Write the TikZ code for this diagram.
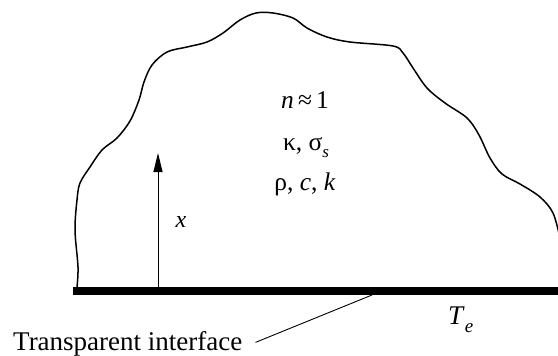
\documentclass[tikz,border=0pt]{standalone}
\usepackage{fontspec}
\setmainfont{Liberation Serif}
\usetikzlibrary{arrows.meta}
\newcommand{\lblfont}{\fontsize{27}{32}\selectfont}
\newcommand{\mfont}{\fontsize{25.5}{30}\selectfont}
\begin{document}
\begin{tikzpicture}[x=1pt,y=-1pt,
  outline/.style={line width=1.5pt,line join=round},
  lbl/.style={inner sep=0pt,font=\lblfont},
  mlbl/.style={inner sep=0pt,font=\mfont,anchor=base},
  leader/.style={line width=0.9pt},
  axis/.style={line width=1pt,-{Triangle[length=19pt,width=9pt]}}]
\useasboundingbox (0,0) rectangle (558,356);
\begin{scope}
\clip (0,0) rectangle (558,356);
\draw[outline] plot[smooth,tension=0.55] coordinates {
 (77,287) (78,267) (75,230) (77,200) (80,183) (90,167) (102,150) (117,138)
 (130,121) (139,100) (144,82) (152,65) (167,52) (187,47) (207,42) (223,33)
 (240,20) (256,13) (273,13) (293,18) (307,28) (327,37) (350,42) (393,46)
 (403,53) (413,68) (427,88) (445,103) (467,118) (479,135) (490,158) (502,174)
 (520,184) (540,197) (553,213) (560,238)};
\end{scope}
\fill (73,287) rectangle (558,295);
\coordinate (barfoot) at (158,287);
\coordinate (xtip) at (158,153);
\coordinate (leadtop) at (372,295);
\draw[axis] (barfoot) -- (xtip);
\node[lbl,font=\fontsize{24}{28}\selectfont] (xl) at (181,222) {\textit{x}};
\node[mlbl] (n) at (305,108) {\textit{n}\,≈\,1};
\node[mlbl] (ks) at (306,150) {κ, σ\raisebox{-0.3em}{\fontsize{17}{20}\selectfont\textit{s}}};
\node[mlbl] (rck) at (305,190) {ρ, \textit{c}, \textit{k}};
\node[lbl,anchor=base west] (te) at (448,324) {\textit{T}\raisebox{-0.3em}{\fontsize{19}{22}\selectfont\textit{e}}};
\node[lbl,anchor=base west] (ti) at (13,350) {Transparent interface};
\draw[leader] (leadtop) -- ([xshift=13pt,yshift=1pt]ti.east);
\end{tikzpicture}
\end{document}
